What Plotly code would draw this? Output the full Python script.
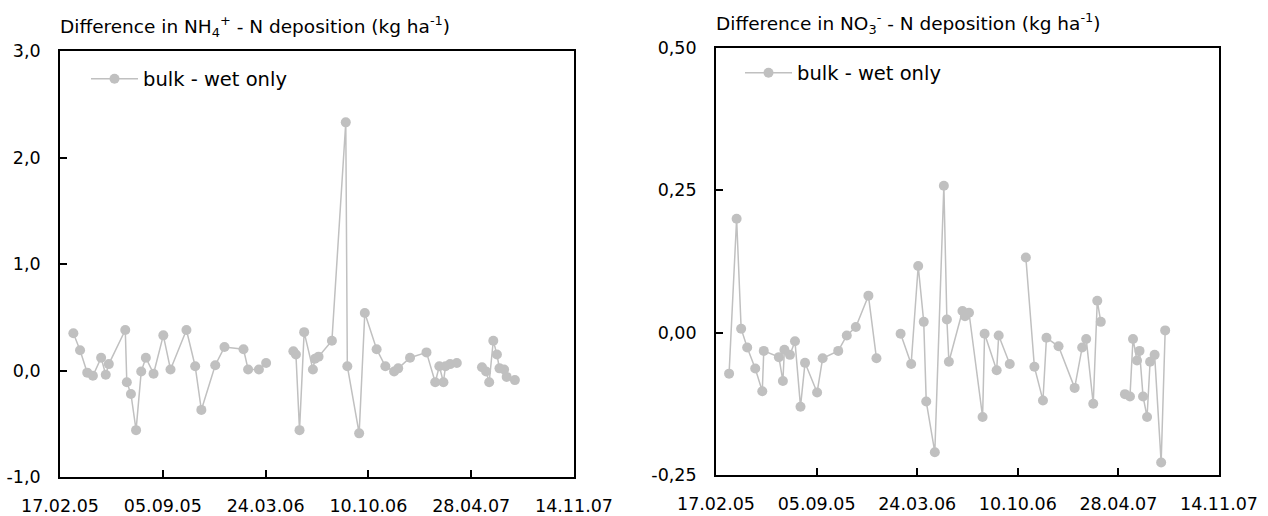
import plotly.graph_objects as go

# ---- data: left panel (NH4+ - N) ----
nh4_dates = [
    "2005-03-15", "2005-03-28", "2005-04-11", "2005-04-22", "2005-05-08", "2005-05-17",
    "2005-05-23", "2005-06-24", "2005-06-27", "2005-07-05", "2005-07-15", "2005-07-25",
    "2005-08-03", "2005-08-18", "2005-09-06", "2005-09-20", "2005-10-21", "2005-11-07",
    "2005-11-19", "2005-12-16", "2006-01-03", "2006-02-09", "2006-02-18", "2006-03-11",
    "2006-03-25", "2006-04-20",
    "2006-05-17", "2006-05-22", "2006-05-29", "2006-06-07", "2006-06-24", "2006-06-28",
    "2006-07-05", "2006-07-31", "2006-08-27", "2006-08-30", "2006-09-22", "2006-10-03",
    "2006-10-26", "2006-11-12", "2006-11-29", "2006-12-07", "2006-12-30", "2007-01-31",
    "2007-02-17", "2007-02-25", "2007-03-05", "2007-03-09", "2007-03-18", "2007-03-31",
    "2007-04-25",
    "2007-05-19", "2007-05-27", "2007-06-02", "2007-06-10", "2007-06-17", "2007-06-22",
    "2007-07-01", "2007-07-06", "2007-07-22",
]
nh4_diff = [
    0.35, 0.19, -0.02, -0.05, 0.12, -0.04,
    0.06, 0.38, -0.11, -0.22, -0.56, -0.01,
    0.12, -0.03, 0.33, 0.01, 0.38, 0.04,
    -0.37, 0.05, 0.22, 0.20, 0.01, 0.01,
    0.07, None,
    0.18, 0.15, -0.56, 0.36, 0.01, 0.11,
    0.13, 0.28, 2.33, 0.04, -0.59, 0.54,
    0.20, 0.04, -0.01, 0.02, 0.12, 0.17,
    -0.11, 0.04, -0.11, 0.04, 0.06, 0.07,
    None,
    0.03, -0.01, -0.11, 0.28, 0.15, 0.02,
    0.01, -0.06, -0.09,
]

# ---- data: right panel (NO3- - N) ----
no3_dates = [
    "2005-03-15", "2005-03-30", "2005-04-08", "2005-04-20", "2005-05-06", "2005-05-20",
    "2005-05-23", "2005-06-22", "2005-06-30", "2005-07-03", "2005-07-14", "2005-07-24",
    "2005-08-04", "2005-08-13", "2005-09-06", "2005-09-17", "2005-10-18", "2005-11-04",
    "2005-11-22", "2005-12-17", "2006-01-02", "2006-02-01",
    "2006-02-19", "2006-03-12", "2006-03-26", "2006-04-06", "2006-04-11", "2006-04-28",
    "2006-05-16", "2006-05-22", "2006-05-26", "2006-06-22", "2006-06-27", "2006-07-05",
    "2006-08-01", "2006-08-05", "2006-08-29", "2006-09-02", "2006-09-24", "2006-10-10",
    "2006-10-26", "2006-11-12", "2006-11-29", "2006-12-06", "2006-12-30", "2007-01-31",
    "2007-02-15", "2007-02-23", "2007-03-09", "2007-03-17", "2007-03-24", "2007-04-20",
    "2007-05-11", "2007-05-21", "2007-05-27", "2007-06-04", "2007-06-09", "2007-06-16",
    "2007-06-24", "2007-06-30", "2007-07-09", "2007-07-22", "2007-07-30",
]
no3_diff = [
    -0.072, 0.200, 0.007, -0.026, -0.063, -0.103,
    -0.032, -0.043, -0.085, -0.030, -0.039, -0.015,
    -0.130, -0.053, -0.105, -0.045, -0.032, -0.005,
    0.010, 0.065, -0.045, None,
    -0.002, -0.055, 0.117, 0.019, -0.121, -0.210,
    0.258, 0.023, -0.051, 0.038, 0.029, 0.035,
    -0.148, -0.002, -0.066, -0.005, -0.055, None,
    0.132, -0.060, -0.119, -0.009, -0.024, -0.097,
    -0.026, -0.011, -0.125, 0.056, 0.019, None,
    -0.108, -0.112, -0.011, -0.049, -0.032, -0.112,
    -0.148, -0.051, -0.039, -0.228, 0.004,
]

# ---- tick labels ----
nh4_ticks = [-1, 0, 1, 2, 3]
nh4_ticklabels = ["-1,0", "0,0", "1,0", "2,0", "3,0"]
no3_ticks = [-0.25, 0, 0.25, 0.5]
no3_ticklabels = ["-0,25", "0,00", "0,25", "0,50"]

series_name = "bulk - wet only"
title_left = "Difference in NH<sub>4</sub><sup>+</sup> - N deposition (kg ha<sup>-1</sup>)"
title_right = "Difference in NO<sub>3</sub><sup>-</sup> - N deposition (kg ha<sup>-1</sup>)"

GREY = "#c0c0c0"
FONT = "DejaVu Sans"
W, H = 1268, 516

fig = go.Figure()
fig.add_trace(go.Scatter(
    x=nh4_dates, y=nh4_diff, mode="lines+markers", name=series_name,
    line=dict(color=GREY, width=1.5), marker=dict(color=GREY, size=10),
    xaxis="x", yaxis="y", legend="legend", showlegend=True, connectgaps=False))
fig.add_trace(go.Scatter(
    x=no3_dates, y=no3_diff, mode="lines+markers", name=series_name,
    line=dict(color=GREY, width=1.5), marker=dict(color=GREY, size=10),
    xaxis="x2", yaxis="y2", legend="legend2", showlegend=True, connectgaps=False))

DAY_MS = 86400000
xcommon = dict(
    type="date", range=["2005-02-17", "2007-11-14"], tick0="2005-02-17",
    dtick=200 * DAY_MS, tickformat="%d.%m.%y", showline=True, linecolor="black",
    linewidth=1.8, mirror=True, ticks="inside", ticklen=7, tickwidth=1.5,
    tickcolor="black", showgrid=False, zeroline=False, automargin=False,
    tickfont=dict(family=FONT, size=17.5, color="black"), ticklabelstandoff=12,
)
ycommon = dict(
    showline=True, linecolor="black", linewidth=1.8, mirror=True, ticks="inside",
    ticklen=7, tickwidth=1.5, tickcolor="black", showgrid=False, zeroline=False,
    automargin=False, tickmode="array",
    tickfont=dict(family=FONT, size=17.5, color="black"), ticklabelstandoff=14,
)

fig.update_layout(
    width=W, height=H, margin=dict(l=0, r=0, t=0, b=0, autoexpand=False),
    paper_bgcolor="white", plot_bgcolor="white", separators=", ",
    showlegend=True,
    font=dict(family=FONT, color="black"),
    xaxis=dict(domain=[60 / W, 574 / W], anchor="y", **xcommon),
    yaxis=dict(domain=[(H - 477) / H, (H - 51) / H], anchor="x",
               range=[-1, 3], tickvals=nh4_ticks, ticktext=nh4_ticklabels, **ycommon),
    xaxis2=dict(domain=[716 / W, 1219 / W], anchor="y2", **xcommon),
    yaxis2=dict(domain=[(H - 475) / H, (H - 48) / H], anchor="x2",
                range=[-0.25, 0.5], tickvals=no3_ticks, ticktext=no3_ticklabels, **ycommon),
    legend=dict(x=86 / W, y=(H - 79) / H, xanchor="left", yanchor="middle",
                bgcolor="rgba(0,0,0,0)", font=dict(family=FONT, size=19.5),
                itemwidth=47),
    legend2=dict(x=740 / W, y=(H - 73) / H, xanchor="left", yanchor="middle",
                 bgcolor="rgba(0,0,0,0)", font=dict(family=FONT, size=19.5),
                 itemwidth=47),
    annotations=[
        dict(text=title_left, x=58 / W, y=(H - 27) / H, xref="paper", yref="paper",
             xanchor="left", yanchor="middle", showarrow=False,
             font=dict(family=FONT, size=18.5, color="black")),
        dict(text=title_right, x=714 / W, y=(H - 24) / H, xref="paper", yref="paper",
             xanchor="left", yanchor="middle", showarrow=False,
             font=dict(family=FONT, size=18.5, color="black")),
    ],
)

fig.write_html("out.html")
